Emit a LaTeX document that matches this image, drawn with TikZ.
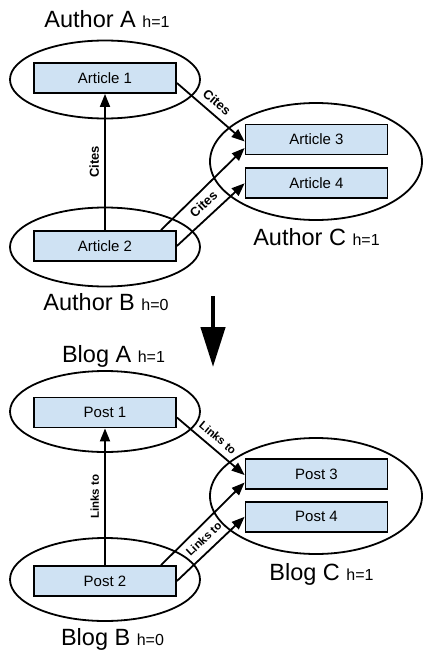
\documentclass[tikz,border=0pt]{standalone}
\usepackage{fontspec}
\setmainfont{Liberation Sans}
\usepackage{xcolor}
\usepackage{tikz}
\usetikzlibrary{positioning, arrows.meta, shapes.geometric}
\definecolor{BoxBlue}{RGB}{207,226,243}
\tikzset{
    groupnode/.style={
        ellipse, draw, line width=1.8pt, minimum width=190pt, minimum height=78pt, inner sep=0pt
    },
    itemnode/.style={
        draw, line width=1.8pt, fill=BoxBlue, minimum width=142pt, minimum height=30pt,
        inner sep=0pt, font=\fontsize{15}{18}\selectfont
    },
    ptr/.style={
        -{Triangle[length=13pt,width=10pt]}, line width=1.8pt
    },
    labelptr/.style={
        font=\bfseries\fontsize{13}{15}\selectfont, sloped, inner sep=1pt
    },
    linklabel/.style={
        labelptr, font=\bfseries\fontsize{11.5}{14}\selectfont
    },
    titlenode/.style={
        anchor=base, inner sep=0pt, font=\fontsize{23.5}{28}\selectfont
    }
}
\newcommand{\hlevel}[1]{{\fontsize{16}{19}\selectfont h=#1}}

\begin{document}
\begin{tikzpicture}[x=1pt, y=-1pt]
    \useasboundingbox (0,0) rectangle (423,650);

    % --- AUTHORS ---
    \node[groupnode] (gA) at (105,79.5) {};
    \node[groupnode, minimum height=79pt] (gB) at (105,247) {};
    \node[groupnode, minimum width=212pt, minimum height=117pt] (gC) at (316,161.5) {};
    \node[titlenode] (tA) at (107,28) {Author A \hlevel{1}};
    \node[titlenode] (tB) at (106,310) {Author B \hlevel{0}};
    \node[titlenode] (tC) at (316.5,245) {Author C \hlevel{1}};

    \node[itemnode] (a1) at (105,78) {Article 1};
    \node[itemnode] (a2) at (105,246) {Article 2};
    \node[itemnode] (a3) at (316.5,139.5) {Article 3};
    \node[itemnode, below=12pt of a3] (a4) {Article 4};

    \draw[ptr] (a2) -- node[labelptr, above=4pt] {Cites} (a1);
    \draw[ptr] ([yshift=-5pt]a1.east) -- node[labelptr, above=5pt, pos=0.48] {Cites} ([yshift=-2pt]a3.west);
    \draw[ptr] ([xshift=56pt]a2.north) -- ([yshift=-8.5pt]a3.west);
    \draw[ptr] (a2.east) -- node[labelptr, above=6pt, pos=0.52] {Cites} (a4.west);

    % --- BIG ARROW ---
    \coordinate (bigtop) at (213,296);
    \coordinate (bigtip) at (213,367);
    \draw[line width=4.5pt, -{Triangle[length=40pt,width=24pt]}] (bigtop) -- (bigtip);

    % --- BLOGS ---
    \node[groupnode, minimum height=81pt] (bA) at (105,411.5) {};
    \node[groupnode, minimum height=83pt] (bB) at (105,579.5) {};
    \node[groupnode, minimum width=212pt, minimum height=116pt] (bC) at (316,496) {};
    \node[titlenode] (sA) at (113.5,362) {Blog A \hlevel{1}};
    \node[titlenode] (sB) at (112.5,645) {Blog B \hlevel{0}};
    \node[titlenode] (sC) at (321.5,580) {Blog C \hlevel{1}};

    \node[itemnode] (p1) at (105,412.5) {Post 1};
    \node[itemnode] (p2) at (105,581) {Post 2};
    \node[itemnode] (p3) at (316.5,474) {Post 3};
    \node[itemnode, below=11pt of p3] (p4) {Post 4};

    \draw[ptr] (p2) -- node[linklabel, above=4pt] {Links to} (p1);
    \draw[ptr] ([yshift=-5pt]p1.east) -- node[linklabel, above=5pt, pos=0.5] {Links to} ([yshift=-1pt]p3.west);
    \draw[ptr] ([xshift=56pt]p2.north) -- ([yshift=-8.5pt]p3.west);
    \draw[ptr] (p2.east) -- node[linklabel, above=6pt, pos=0.52] {Links to} (p4.west);
\end{tikzpicture}
\end{document}
